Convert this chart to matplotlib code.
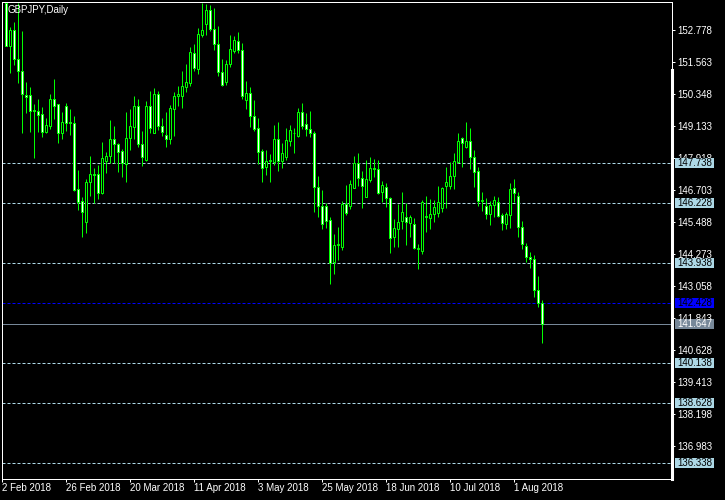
import numpy as np
import pandas as pd
import matplotlib
matplotlib.use("Agg")
import matplotlib.pyplot as plt
from matplotlib.patches import Rectangle
from matplotlib.transforms import blended_transform_factory

plt.rcParams['font.family'] = ['Liberation Sans', 'DejaVu Sans']

# daily bars, 5 Feb 2018 .. 13 Aug 2018 (2 Feb is bar 0, above the window)
days = pd.bdate_range('2018-02-05', periods=135)

opens = [153.81, 152.20, 152.80, 151.68, 151.24, 150.32, 150.32, 149.76, 149.71, 149.59,
         148.94, 149.17, 150.18, 149.97, 148.90, 149.91, 149.30, 149.25, 146.75, 146.30,
         145.52, 147.01, 147.34, 147.33, 146.60, 147.84, 148.00, 148.65, 148.46, 148.20,
         147.70, 148.68, 149.13, 149.92, 148.46, 147.86, 149.92, 148.90, 150.35, 149.17,
         148.81, 148.67, 149.81, 150.29, 150.29, 150.62, 150.80, 151.91, 151.30, 152.62,
         153.01, 153.54, 152.82, 152.25, 151.19, 150.84, 151.49, 152.01, 152.37, 152.03,
         150.14, 150.39, 149.54, 149.06, 148.20, 147.61, 147.84, 147.80, 148.65, 147.84,
         147.96, 148.60, 148.90, 148.77, 149.68, 149.22, 149.03, 148.87, 146.82, 146.12,
         146.12, 145.58, 144.00, 144.63, 144.57, 146.19, 146.12, 146.81, 147.73, 147.17,
         146.47, 147.10, 147.55, 147.52, 146.65, 146.82, 146.41, 144.95, 145.25, 145.53,
         145.71, 145.46, 145.43, 144.48, 144.42, 145.71, 145.67, 145.80, 145.84, 146.03,
         146.89, 146.89, 147.27, 147.77, 148.68, 148.37, 148.58, 147.99, 147.44, 146.32,
         146.11, 145.80, 146.14, 146.28, 145.77, 145.42, 145.77, 146.79, 146.51, 145.30,
         144.60, 144.17, 144.09, 142.93, 142.44]
highs = [153.90, 152.92, 153.11, 153.84, 152.76, 150.82, 150.62, 149.99, 150.18, 149.86,
         149.44, 150.37, 150.94, 150.00, 149.67, 150.01, 149.79, 149.53, 147.48, 146.47,
         147.14, 148.01, 147.55, 147.67, 148.53, 148.18, 149.38, 149.15, 148.52, 148.27,
         149.68, 149.80, 150.29, 150.18, 148.96, 150.10, 150.48, 150.58, 150.48, 149.44,
         149.67, 149.94, 150.43, 150.67, 151.24, 151.49, 152.15, 152.27, 152.86, 153.84,
         153.78, 153.73, 153.62, 152.95, 151.68, 151.66, 152.61, 152.57, 152.72, 152.29,
         150.86, 150.62, 150.14, 149.44, 148.28, 148.24, 148.09, 149.19, 149.32, 148.52,
         149.06, 149.19, 149.06, 149.84, 150.04, 149.63, 149.72, 148.98, 147.25, 146.72,
         146.24, 145.71, 145.05, 145.33, 146.30, 146.91, 147.10, 148.01, 148.12, 147.44,
         147.86, 147.96, 147.90, 147.86, 147.06, 146.98, 146.47, 145.61, 146.19, 146.63,
         146.22, 145.77, 145.67, 144.67, 146.34, 146.49, 146.38, 146.34, 146.87, 146.82,
         147.61, 147.80, 148.14, 148.90, 148.75, 149.30, 149.06, 148.24, 147.61, 146.63,
         146.41, 146.30, 146.49, 146.47, 145.84, 145.87, 146.98, 147.14, 146.63, 145.55,
         144.70, 144.38, 144.25, 143.46, 142.55]
lows = [152.18, 151.18, 151.47, 150.80, 148.90, 149.63, 148.94, 147.95, 148.91, 148.75,
        148.87, 149.03, 149.41, 148.52, 148.65, 148.96, 148.81, 146.70, 145.96, 144.95,
        145.08, 146.49, 146.22, 146.37, 146.57, 147.38, 147.73, 147.73, 147.42, 147.23,
        147.04, 148.24, 148.67, 148.37, 147.65, 147.82, 148.90, 148.87, 149.00, 148.78,
        148.37, 148.47, 148.77, 149.91, 149.85, 150.46, 150.67, 151.24, 151.13, 152.54,
        152.61, 152.76, 152.04, 151.05, 150.67, 150.71, 151.41, 151.94, 151.91, 150.18,
        149.80, 149.10, 148.96, 147.70, 147.04, 147.29, 147.04, 147.67, 147.46, 147.57,
        147.86, 148.41, 148.14, 148.72, 149.04, 148.77, 148.75, 145.90, 145.68, 145.24,
        145.29, 143.15, 143.53, 144.06, 144.44, 145.77, 146.00, 146.78, 146.87, 146.05,
        146.44, 147.04, 147.20, 146.56, 146.25, 146.09, 144.34, 144.57, 144.57, 145.23,
        144.63, 144.95, 144.47, 143.72, 144.29, 145.14, 145.24, 145.52, 145.71, 145.90,
        146.05, 146.76, 146.76, 147.73, 147.61, 148.33, 147.52, 146.85, 146.11, 145.94,
        145.62, 145.39, 145.71, 145.71, 145.20, 145.23, 145.29, 146.28, 144.95, 144.47,
        144.00, 143.77, 142.67, 142.29, 140.90]
closes = [152.20, 152.80, 151.68, 151.25, 150.38, 150.27, 149.73, 149.71, 149.58, 148.94,
          149.18, 150.18, 149.92, 148.90, 149.29, 149.28, 149.25, 146.72, 146.28, 145.90,
          147.03, 147.33, 147.30, 146.60, 147.92, 148.00, 148.65, 148.46, 148.18, 147.76,
          148.68, 149.14, 149.92, 148.46, 147.99, 149.92, 149.09, 150.35, 149.17, 148.94,
          148.67, 149.82, 150.28, 150.35, 150.66, 150.81, 151.95, 151.37, 152.63, 152.78,
          153.54, 152.82, 152.25, 151.19, 150.71, 151.49, 152.06, 152.40, 152.04, 150.29,
          150.39, 149.54, 149.04, 148.18, 147.55, 147.84, 147.86, 148.65, 147.84, 148.12,
          148.62, 149.00, 148.87, 149.68, 149.17, 149.03, 148.87, 146.85, 146.13, 145.42,
          145.56, 143.96, 144.63, 144.66, 146.19, 145.86, 146.94, 147.73, 147.19, 146.89,
          147.13, 147.55, 147.52, 146.60, 146.90, 146.41, 144.91, 145.27, 145.49, 145.87,
          145.52, 145.71, 144.53, 144.51, 146.25, 145.73, 145.80, 146.06, 146.25, 146.79,
          147.01, 147.27, 147.84, 148.58, 148.49, 148.58, 147.99, 147.42, 146.32, 146.34,
          145.80, 146.15, 146.34, 145.75, 145.46, 145.80, 146.76, 146.62, 145.30, 144.66,
          144.17, 144.09, 142.93, 142.44, 141.647]

date_labels = ['2 Feb 2018', '26 Feb 2018', '20 Mar 2018', '11 Apr 2018', '3 May 2018',
               '25 May 2018', '18 Jun 2018', '10 Jul 2018', '1 Aug 2018']
price_ticks = [152.778, 151.563, 150.348, 149.133, 147.918, 146.703, 145.488,
               144.273, 143.058, 141.843, 140.628, 139.413, 138.198, 136.983]
levels = [147.738, 146.228, 143.938, 140.138, 138.628, 136.338]
blue_level = 142.428
last_price = 141.647

o = np.array(opens); h = np.array(highs); l = np.array(lows); c = np.array(closes)
x = np.arange(1, len(days) + 1)

fig = plt.figure(figsize=(7.25, 5), dpi=100, facecolor='black')
ax = fig.add_axes([2 / 725, 21 / 500, 670 / 725, 477 / 500])
ax.set_facecolor('black')
ax.set_xlim(0, 167.5)
ax.set_ylim(135.749, 153.86)

lw = 0.72
# level lines
for p in levels:
    ax.axhline(p, color='#add8e6', lw=lw, ls=(0, (3, 2)), zorder=1)
ax.axhline(blue_level, color='#0000ff', lw=lw, ls=(0, (3, 2)), zorder=1)
ax.axhline(last_price, color='#778899', lw=lw, zorder=1)

# candles
ax.vlines(x, l, h, color='#00ff00', lw=lw, zorder=2)
fill = np.where(c < o, 'white', 'black')
ax.bar(x, np.abs(c - o), bottom=np.minimum(o, c), width=0.5, color=fill,
       edgecolor='#00ff00', linewidth=lw, zorder=3)

for s in ax.spines.values():
    s.set_color('white')
    s.set_linewidth(lw)
ax.plot([1, 1], [0, 0.857], transform=ax.transAxes, color='white', lw=2.2,
        clip_on=False, zorder=5)

ax.yaxis.tick_right()
ax.set_yticks(price_ticks)
ax.set_yticklabels(['%.3f' % v for v in price_ticks])
ax.set_xticks(np.arange(len(date_labels)) * 16)
ax.set_xticklabels(date_labels, ha='left')
ax.tick_params(colors='white', labelcolor='white', length=2.2, width=lw, labelsize=7, pad=1.5)
ax.tick_params(axis='x', pad=1)

ax.text(5 / 670, 1 - 3 / 477, 'GBPJPY,Daily', transform=ax.transAxes, color='white',
        fontsize=7, ha='left', va='top')

# price boxes on the right scale
tr = blended_transform_factory(ax.transAxes, ax.transData)
ppx = (153.86 - 135.749) / 477
def price_box(p, fc, tc):
    ax.add_patch(Rectangle((1 + 3 / 670, p - 5 * ppx), 39 / 670, 10 * ppx, transform=tr,
                           facecolor=fc, edgecolor='none', clip_on=False, zorder=6))
    ax.text(1 + 5 / 670, p, '%.3f' % p, transform=tr, color=tc, fontsize=7,
            ha='left', va='center', zorder=7, clip_on=False)

for p in levels:
    price_box(p, '#add8e6', 'black')
price_box(blue_level, '#0000ff', 'black')
price_box(last_price, '#778899', 'white')

fig.savefig('out.png', dpi=100, facecolor='black')
